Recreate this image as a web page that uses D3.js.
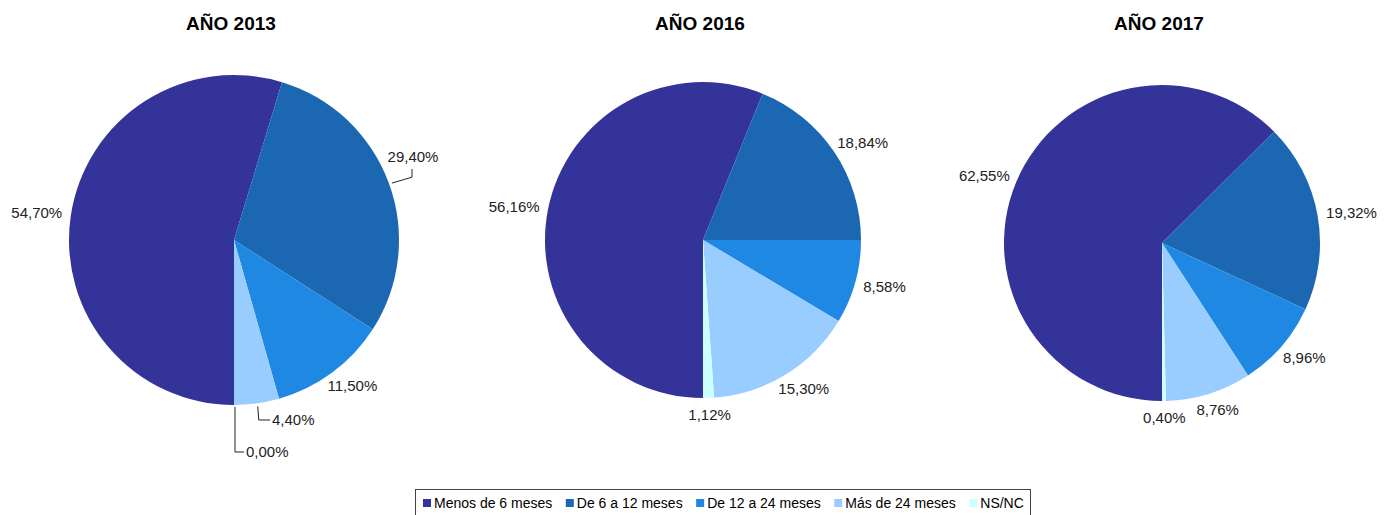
<!DOCTYPE html>
<html>
<head>
<meta charset="utf-8">
<script src="https://cdn.jsdelivr.net/npm/d3@7"></script>
<style>
  body { margin: 0; background: #fff; }
  svg { display: block; font-family: "Liberation Sans", Arial, sans-serif; }
</style>
</head>
<body>
<script>
// chart size
var w = 1389;
var h = 515;

// data
var categories = ["Menos de 6 meses", "De 6 a 12 meses", "De 12 a 24 meses", "Más de 24 meses", "NS/NC"];
var years = ["AÑO 2013", "AÑO 2016", "AÑO 2017"];
var values2013 = [54.70, 29.40, 11.50, 4.40, 0.00];
var values2016 = [56.16, 18.84, 8.58, 15.30, 1.12];
var values2017 = [62.55, 19.32, 8.96, 8.76, 0.40];
var colors = ["#333399", "#1b67b1", "#1f88e2", "#99ccff", "#ccffff"];

var series = [values2013, values2016, values2017];

// pie layout (centre x, centre y, radius)
var pies = [
  { cx: 234, cy: 240, r: 165 },
  { cx: 703, cy: 240, r: 158 },
  { cx: 1162, cy: 243, r: 158 }
];

// labels that were dragged away in the original, with a leader line
var moved = [
  { p: 0, i: 1, x: 413, y: 157, leader: "up" },
  { p: 0, i: 3, x: 272, y: 420, leader: "left" },
  { p: 0, i: 4, x: 246, y: 452, leader: "left" }
];

var svg = d3.select("body").append("svg")
  .attr("width", w)
  .attr("height", h);

var pie = d3.pie()
  .sort(null)
  .value(function(d) { return d; })
  .startAngle(Math.PI)
  .endAngle(3 * Math.PI);

function fmt(v) {
  return v.toFixed(2).replace(".", ",") + "%";
}

series.forEach(function(vals, p) {
  var cfg = pies[p];
  var g = svg.append("g")
    .attr("transform", "translate(" + cfg.cx + "," + cfg.cy + ")");

  var arc = d3.arc().innerRadius(0).outerRadius(cfg.r);
  var arcs = pie(vals);

  g.selectAll("path")
    .data(arcs)
    .enter()
    .append("path")
    .attr("d", arc)
    .attr("fill", function(d, i) { return colors[i]; });

  //title
  svg.append("text")
    .attr("x", cfg.cx - 3)
    .attr("y", 30)
    .attr("text-anchor", "middle")
    .attr("font-size", "19px")
    .attr("font-weight", "bold")
    .attr("fill", "#000")
    .text(years[p]);

  //labels
  arcs.forEach(function(d, i) {
    var mid = (d.startAngle + d.endAngle) / 2;
    var s = Math.sin(mid), c = -Math.cos(mid);
    var mv = moved.filter(function(m) { return m.p === p && m.i === i; })[0];

    var t = g.append("text")
      .attr("font-size", "15px")
      .attr("fill", "#222")
      .attr("dy", "0.35em")
      .text(fmt(d.data));

    if (mv) {
      var lx = mv.x - cfg.cx, ly = mv.y - cfg.cy;
      var ex = s * cfg.r, ey = c * cfg.r;
      var pts;
      if (mv.leader === "up") {
        t.attr("x", lx).attr("y", ly).attr("text-anchor", "middle");
        pts = [[ex + 3, ey], [lx - 1, ey - 6], [lx - 1, ly + 12]];
      } else {
        t.attr("x", lx).attr("y", ly).attr("text-anchor", "start");
        pts = [[ex + 1, ey + 3], [ex + 2, ly], [lx - 2, ly]];
        if (i === 4) pts = [[ex + 1, ey + 2], [ex + 1, ly], [lx - 2, ly]];
      }
      g.append("path")
        .attr("d", d3.line()(pts))
        .attr("fill", "none")
        .attr("stroke", "#222")
        .attr("stroke-width", 1);
    } else {
      // label box pushed outward from a point just outside the rim
      var hw = t.node().getComputedTextLength() / 2;
      var R = cfg.r + 9;
      t.attr("x", s * R + hw * s)
        .attr("y", c * R + 8 * c)
        .attr("text-anchor", "middle");
    }
  });
});

//legend
var legend = svg.append("g").attr("transform", "translate(415,489)");
legend.append("rect")
  .attr("x", 0.5).attr("y", 0.5)
  .attr("width", 615).attr("height", 26)
  .attr("fill", "#fff")
  .attr("stroke", "#444");

var lx = 8;
categories.forEach(function(cat, i) {
  legend.append("rect")
    .attr("x", lx).attr("y", 10)
    .attr("width", 8).attr("height", 8)
    .attr("fill", colors[i]);
  var t = legend.append("text")
    .attr("x", lx + 11).attr("y", 14)
    .attr("dy", "0.35em")
    .attr("font-size", "14px")
    .attr("fill", "#000")
    .text(cat);
  lx += 11 + t.node().getComputedTextLength() + 13.5;
});
</script>
</body>
</html>
